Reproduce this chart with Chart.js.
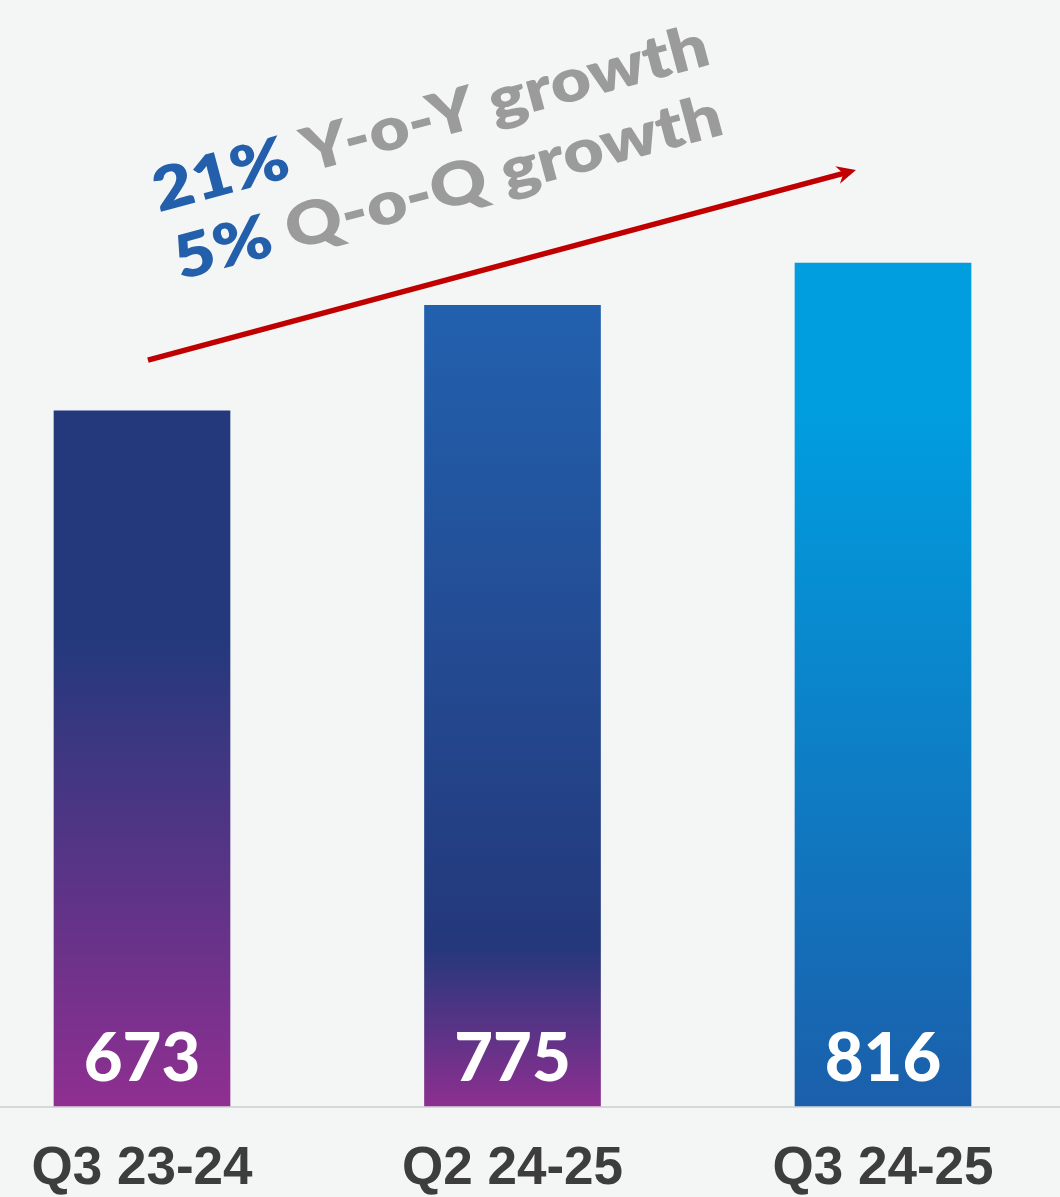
<!DOCTYPE html>
<html>
<head>
<meta charset="utf-8">
<title>Quarterly revenue</title>
<script src="https://cdn.jsdelivr.net/npm/chart.js@4.4.1/dist/chart.umd.min.js"></script>
<style>
  html, body { margin: 0; padding: 0; background: #f4f5f5; }
  #wrap { width: 1060px; height: 1197px; position: relative; }
</style>
</head>
<body>
<div id="wrap"><canvas id="rev-chart"></canvas></div>
<script>
'use strict';

// values
const quarters = ['Q3 23-24', 'Q2 24-25', 'Q3 24-25'];
const revenue  = [673, 775, 816];

// growth callouts: [highlighted figure, rest of the line]
const yoyLine = ['21%', ' Y-o-Y growth'];
const qoqLine = ['5%', ' Q-o-Q growth'];

// arrow from/to, in [category index, value]
const arrowFrom = [0.016, 722];
const arrowTo   = [1.927, 906];

// per-bar gradient stops, top of bar -> baseline
const barStops = [
  [[0, '#24397c'], [0.33, '#24397c'], [1, '#8f2f91']],
  [[0, '#2261ae'], [0.80, '#24387b'], [1, '#8c2f90']],
  [[0, '#009ddf'], [0.18, '#009ddf'], [1, '#1b5fab']],
];

const FONT_TXT = 'Lato, "Open Sans", sans-serif';

function barFill(c) {
  const chart = c.chart;
  if (!chart.chartArea || c.dataIndex == null) return '#24397c';
  const y = chart.scales.y;
  const top = y.getPixelForValue(revenue[c.dataIndex]);
  const bottom = y.getPixelForValue(0);
  const g = chart.ctx.createLinearGradient(0, top, 0, bottom);
  barStops[c.dataIndex].forEach(([p, col]) => g.addColorStop(p, col));
  return g;
}

// baseline across the full width
const baseline = {
  id: 'baseline',
  beforeDatasetsDraw(chart) {
    const ctx = chart.ctx;
    const y0 = chart.scales.y.getPixelForValue(0);
    ctx.save();
    ctx.strokeStyle = '#d7d8d8';
    ctx.lineWidth = 2;
    ctx.beginPath();
    ctx.moveTo(0, y0 + 1);
    ctx.lineTo(chart.width, y0 + 1);
    ctx.stroke();
    ctx.restore();
  }
};

// white values at the foot of each bar
const valueLabels = {
  id: 'valueLabels',
  afterDatasetsDraw(chart) {
    const ctx = chart.ctx;
    const meta = chart.getDatasetMeta(0);
    const y0 = chart.scales.y.getPixelForValue(0);
    ctx.save();
    ctx.fillStyle = '#ffffff';
    ctx.font = `900 67px ${FONT_TXT}`;
    ctx.textAlign = 'center';
    ctx.textBaseline = 'middle';
    meta.data.forEach((bar, i) => {
      ctx.fillText(String(revenue[i]), bar.x, y0 - 47);
    });
    ctx.restore();
  }
};

// red growth arrow + tilted callout text
const growthCallout = {
  id: 'growthCallout',
  afterDraw(chart) {
    const { x, y } = chart.scales;
    const ctx = chart.ctx;
    const x1 = x.getPixelForValue(arrowFrom[0]), y1 = y.getPixelForValue(arrowFrom[1]);
    const x2 = x.getPixelForValue(arrowTo[0]),   y2 = y.getPixelForValue(arrowTo[1]);
    const ang = Math.atan2(y2 - y1, x2 - x1);
    const len = Math.hypot(x2 - x1, y2 - y1);

    ctx.save();
    ctx.translate(x1, y1);
    ctx.rotate(ang);
    // shaft
    ctx.strokeStyle = '#c00000';
    ctx.lineWidth = 5.5;
    ctx.beginPath();
    ctx.moveTo(0, 0);
    ctx.lineTo(len - 10, 0);
    ctx.stroke();
    // head
    ctx.fillStyle = '#c00000';
    ctx.beginPath();
    ctx.moveTo(len, 0);
    ctx.lineTo(len - 19, -9);
    ctx.lineTo(len - 13, 0);
    ctx.lineTo(len - 19, 9);
    ctx.closePath();
    ctx.fill();

    // callout lines, baseline offsets measured along/across the arrow,
    // each stretched sideways to its run length
    ctx.rotate(-15 * Math.PI / 180 - ang);
    const lines = [
      { parts: yoyLine, along: 49, across: -140, width: 573 },
      { parts: qoqLine, along: 52, across: -69,  width: 565 },
    ];
    ctx.font = `800 60px ${FONT_TXT}`;
    ctx.textBaseline = 'alphabetic';
    ctx.textAlign = 'left';
    lines.forEach(l => {
      const full = l.parts.join('');
      const sx = l.width / ctx.measureText(full).width;
      const w1 = ctx.measureText(l.parts[0]).width;
      ctx.save();
      ctx.translate(l.along, l.across);
      ctx.scale(sx, 1);
      ctx.fillStyle = '#245fab';
      ctx.fillText(l.parts[0], 0, 0);
      ctx.fillStyle = '#9b9b9b';
      ctx.fillText(l.parts[1], w1, 0);
      ctx.restore();
    });
    ctx.restore();
  }
};

new Chart(document.getElementById('rev-chart'), {
  type: 'bar',
  data: {
    labels: quarters,
    datasets: [{
      data: revenue,
      backgroundColor: barFill,
      borderWidth: 0,
      barThickness: 176,
      clip: false,
    }]
  },
  options: {
    responsive: true,
    maintainAspectRatio: false,
    animation: false,
    events: [],
    layout: { padding: { left: 142, right: 177, top: 73, bottom: 0 } },
    plugins: { legend: { display: false }, tooltip: { enabled: false } },
    scales: {
      x: {
        offset: false,
        grid: { display: false, drawTicks: false },
        border: { display: false },
        afterFit(scale) {
          scale.height = 91;
          scale.paddingLeft = 0;
          scale.paddingRight = 0;
        },
        ticks: {
          padding: 36.5,
          color: '#3d3d3d',
          maxRotation: 0,
          font: { family: '"Liberation Sans", Arial, sans-serif', weight: 'bold', size: 53, lineHeight: 1 }
        }
      },
      y: { display: false, min: 0, max: 1000 }
    }
  },
  plugins: [baseline, valueLabels, growthCallout]
});
</script>
</body>
</html>
